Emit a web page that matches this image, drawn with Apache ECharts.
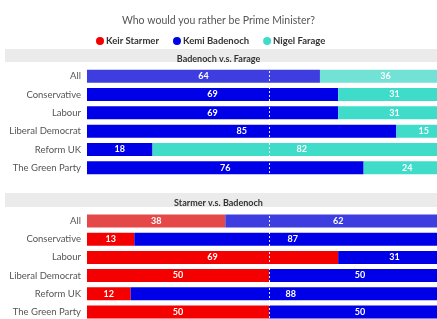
<!DOCTYPE html>
<html>
<head>
<meta charset="utf-8">
<script src="https://cdn.jsdelivr.net/npm/echarts@6/dist/echarts.min.js"></script>
<style>
  html, body { margin: 0; padding: 0; background: #fff; }
  #chart { width: 437px; height: 319px; }
</style>
</head>
<body>
<div id="chart"></div>
<script>
// groups (same for both panels)
let groups = ['All', 'Conservative', 'Labour', 'Liberal Democrat', 'Reform UK', 'The Green Party'];

// Badenoch v.s. Farage
let topBadenoch = [64, 69, 69, 85, 18, 76];
let topFarage = [36, 31, 31, 15, 82, 24];

// Starmer v.s. Badenoch
let botStarmer = [38, 13, 69, 50, 12, 50];
let botBadenoch = [62, 87, 31, 50, 88, 50];

let RED = '#f50000', BLUE = '#0000e8', TEAL = '#3fdcca';
let RED_ALL = '#e44848', BLUE_ALL = '#3d3de0', TEAL_ALL = '#72e2d6';

function makeData(vals, allColor) {
  // first row ("All") drawn a bit lighter, like the reference
  return vals.map((v, i) => i === 0 ? {value: v, itemStyle: {color: allColor}} : v);
}

let font = 'Lato, "Noto Sans", sans-serif';
let label = {
  show: true,
  position: 'inside',
  color: '#fff',
  fontWeight: 'bold',
  fontSize: 9,
  fontFamily: font
};
let midLine = {
  silent: true,
  symbol: 'none',
  label: {show: false},
  lineStyle: {color: '#fff', type: [2, 2], width: 1, opacity: 0.9},
  data: [{xAxis: 50}]
};

function bar(name, vals, color, allColor, idx, withLine) {
  let s = {
    name: name,
    type: 'bar',
    stack: 'g' + idx,
    xAxisIndex: idx,
    yAxisIndex: idx,
    barWidth: 13,
    itemStyle: {color: color},
    label: label,
    data: makeData(vals, allColor)
  };
  if (withLine) s.markLine = midLine;
  return s;
}

function yAx(idx) {
  return {
    type: 'category',
    gridIndex: idx,
    inverse: true,
    data: groups,
    axisLine: {show: false},
    axisTick: {show: false},
    axisLabel: {color: '#555', fontSize: 9.5, margin: 6, fontFamily: font}
  };
}
function xAx(idx) {
  return {type: 'value', gridIndex: idx, min: 0, max: 100, show: false};
}

let myChart = echarts.init(document.getElementById('chart'));
let option = {
  animation: false,
  backgroundColor: '#fff',
  title: [
    {
      text: 'Who would you rather be Prime Minister?',
      left: 'center', top: 10,
      textStyle: {color: '#555', fontSize: 10.5, fontWeight: 'normal', fontFamily: font}
    },
    {
      text: 'Badenoch v.s. Farage',
      left: 'center', top: 50,
      textStyle: {color: '#333', fontSize: 9, fontWeight: 'bold', fontFamily: font}
    },
    {
      text: 'Starmer v.s. Badenoch',
      left: 'center', top: 194,
      textStyle: {color: '#333', fontSize: 9, fontWeight: 'bold', fontFamily: font}
    }
  ],
  legend: {
    top: 31,
    left: 91,
    icon: 'circle',
    itemWidth: 8,
    itemHeight: 8,
    itemGap: 14,
    textStyle: {color: '#333', fontSize: 9.5, fontWeight: 'bold', fontFamily: font, padding: [0, 0, 0, -3]},
    data: [
      {name: 'Keir Starmer', itemStyle: {color: RED}},
      {name: 'Kemi Badenoch', itemStyle: {color: BLUE}},
      {name: 'Nigel Farage', itemStyle: {color: TEAL}}
    ]
  },
  graphic: [
    {type: 'rect', z: -1, shape: {x: 5, y: 49, width: 440, height: 13}, style: {fill: '#ebebeb'}},
    {type: 'rect', z: -1, shape: {x: 5, y: 193, width: 440, height: 14}, style: {fill: '#ebebeb'}}
  ],
  // the plot runs past the right edge of the picture (cropped like the reference)
  grid: [
    {left: 87, width: 364, top: 67, height: 110, outerBoundsMode: 'none'},
    {left: 87, width: 364, top: 212, height: 109, outerBoundsMode: 'none'}
  ],
  xAxis: [xAx(0), xAx(1)],
  yAxis: [yAx(0), yAx(1)],
  series: [
    bar('Kemi Badenoch', topBadenoch, BLUE, BLUE_ALL, 0, true),
    bar('Nigel Farage', topFarage, TEAL, TEAL_ALL, 0, false),
    bar('Keir Starmer', botStarmer, RED, RED_ALL, 1, false),
    bar('Kemi Badenoch', botBadenoch, BLUE, BLUE_ALL, 1, true)
  ]
};
myChart.setOption(option);
</script>
</body>
</html>
